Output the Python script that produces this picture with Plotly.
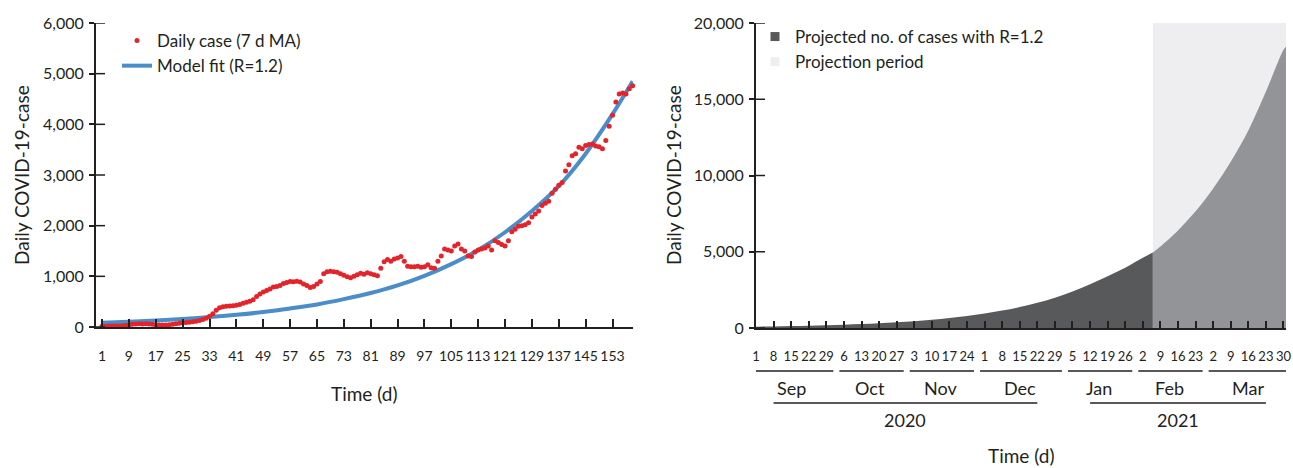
import plotly.graph_objects as go
import pandas as pd

W, H = 1293, 468

# ---- Left panel: observed daily cases (7-day moving average) and model fit ----
days = list(range(1, 160))
daily_ma = [
    15, 15, 18, 20, 20, 22, 25, 30,
    45, 55, 60, 65, 60, 65, 60, 55,
    45, 40, 38, 40, 45, 55, 65,
    75, 85, 90, 95, 105,
    115, 130, 150, 175, 210,
    260, 330, 380, 400, 410, 415, 420, 430, 445, 470,
    490, 510, 540, 600, 650, 690, 720, 750, 790, 800,
    820, 860, 880, 900, 895, 905, 890, 850, 820, 780,
    800, 850, 900,
    1050, 1090, 1100, 1090, 1080, 1050, 1020, 990, 970, 1000,
    1030, 1060, 1040, 1070, 1050, 1030, 1010,
    1160, 1290, 1330, 1300, 1340, 1360, 1390, 1300, 1200, 1190,
    1190, 1200, 1180, 1190, 1230, 1170, 1160,
    1300, 1400, 1540, 1520, 1500, 1600, 1640, 1540, 1500, 1400,
    1390, 1480, 1520, 1540, 1560, 1600, 1520,
    1700, 1670, 1630, 1600, 1700, 1880, 1930, 1990, 2000, 2020,
    2060, 2170, 2230, 2290, 2400, 2440, 2480,
    2640, 2720, 2800, 2850, 3080, 3200, 3380, 3420, 3550, 3520,
    3580, 3600, 3610, 3570, 3560, 3520,
    3680, 3960, 4180, 4440, 4600, 4620, 4600, 4700, 4760,
]

fit_days = [1, 9, 17, 25, 33, 41, 49, 57, 65, 73, 81, 89, 97, 105,
            113, 121, 129, 137, 145, 153, 159]
fit_cases = [85, 105, 130, 160, 195, 240, 295, 365, 445, 550, 670, 820,
             1010, 1240, 1520, 1870, 2290, 2780, 3420, 4200, 4850]

left_ticks = list(range(1, 154, 8))

# ---- Right panel: projected daily cases with R=1.2 ----
proj_dates = [
    "2020-09-01", "2020-09-08", "2020-09-15", "2020-09-22", "2020-09-29",
    "2020-10-06", "2020-10-13", "2020-10-20", "2020-10-27",
    "2020-11-03", "2020-11-10", "2020-11-17", "2020-11-24",
    "2020-12-01", "2020-12-08", "2020-12-15", "2020-12-22", "2020-12-29",
    "2021-01-05", "2021-01-12", "2021-01-19", "2021-01-26",
    "2021-02-02", "2021-02-06", "2021-02-09", "2021-02-16", "2021-02-23",
    "2021-03-02", "2021-03-09", "2021-03-16", "2021-03-23", "2021-03-30",
    "2021-03-31",
]
proj_cases = [
    90, 105, 125, 150, 180,
    215, 260, 310, 375,
    450, 540, 650, 790,
    950, 1140, 1370, 1650, 1990,
    2390, 2870, 3400, 3950,
    4600, 4950, 5350, 6400, 7650,
    9150, 10900, 12950, 15500, 18250,
    18450,
]
projection_start = "2021-02-06"
projection_end = "2021-03-31"
y2_max = 20000

week_ticks = pd.date_range("2020-09-01", "2021-03-30", freq="7D")

FONT = "Lato, 'Open Sans', sans-serif"
NARROW = "'Liberation Sans Narrow', 'Arial Narrow', Lato, sans-serif"
INK = "#231f20"
RED = "#e3242b"
BLUE = "#4a8dc9"
DARK = "#58595b"
MID = "#939497"
LIGHT = "#eeeef0"

def px_x(p):
    return p / W

def px_y(p):
    return 1 - p / H

fig = go.Figure()

# left panel traces
fig.add_trace(go.Scatter(
    x=fit_days, y=fit_cases, mode="lines", name="Model fit (R=1.2)",
    line=dict(color=BLUE, width=4, shape="spline"),
    xaxis="x", yaxis="y", legend="legend", legendrank=2, cliponaxis=False,
))
fig.add_trace(go.Scatter(
    x=days, y=daily_ma, mode="markers", name="Daily case (7 d MA)",
    marker=dict(color=RED, size=5), xaxis="x", yaxis="y",
    legend="legend", legendrank=1, cliponaxis=False,
))

# right panel traces
obs = [(d, v) for d, v in zip(proj_dates, proj_cases) if d <= projection_start]
fut = [(d, v) for d, v in zip(proj_dates, proj_cases) if d >= projection_start]

fig.add_trace(go.Scatter(
    x=[projection_start, projection_start, projection_end, projection_end],
    y=[0, y2_max, y2_max, 0], mode="none", fill="toself", fillcolor=LIGHT,
    hoverinfo="skip", showlegend=False, xaxis="x2", yaxis="y2",
))
fig.add_trace(go.Scatter(
    x=[d for d, _ in obs], y=[v for _, v in obs], mode="lines",
    line=dict(width=0, shape="spline"), fill="tozeroy", fillcolor=DARK,
    showlegend=False, xaxis="x2", yaxis="y2",
))
fig.add_trace(go.Scatter(
    x=[d for d, _ in fut], y=[v for _, v in fut], mode="lines",
    line=dict(width=0, shape="spline"), fill="tozeroy", fillcolor=MID,
    showlegend=False, xaxis="x2", yaxis="y2",
))
# legend swatches for the right panel
fig.add_trace(go.Scatter(
    x=[None], y=[None], mode="markers", name="Projected no. of cases with R=1.2",
    marker=dict(symbol="square", size=9, color=DARK),
    xaxis="x2", yaxis="y2", legend="legend2",
))
fig.add_trace(go.Scatter(
    x=[None], y=[None], mode="markers", name="Projection period",
    marker=dict(symbol="square", size=9, color=LIGHT),
    xaxis="x2", yaxis="y2", legend="legend2",
))

axis_common = dict(showgrid=False, zeroline=False, showline=True,
                   linecolor=INK, linewidth=2, tickcolor=INK, tickwidth=1.5,
                   automargin=False)

left_dom = [px_x(96), px_x(633)]
right_dom = [px_x(756), px_x(1286)]

fig.update_layout(
    width=W, height=H,
    margin=dict(l=0, r=0, t=0, b=0, autoexpand=False),
    paper_bgcolor="white", plot_bgcolor="white",
    font=dict(family=FONT, color=INK, size=16),
    xaxis=dict(
        **axis_common, domain=left_dom, anchor="y", range=[-0.8, 159.1],
        ticks="inside", ticklen=8, tickvals=left_ticks,
        ticktext=[str(t) for t in left_ticks], tickangle=0,
        tickfont=dict(family=NARROW, size=14), ticklabelstandoff=15,
    ),
    yaxis=dict(
        **axis_common, domain=[px_y(327), px_y(23)], anchor="x",
        range=[0, 6000], tickvals=list(range(0, 6001, 1000)),
        tickformat=",", ticks="outside", ticklen=5,
        tickfont=dict(size=16), ticklabelstandoff=2,
    ),
    xaxis2=dict(
        **axis_common, domain=right_dom, anchor="y2", type="date",
        range=["2020-09-01", "2021-03-31"],
        ticks="inside", ticklen=7, tickvals=list(week_ticks),
        ticktext=[str(d.day) for d in week_ticks], tickangle=0,
        tickfont=dict(family=NARROW, size=13), ticklabelstandoff=15,
    ),
    yaxis2=dict(
        **axis_common, domain=[px_y(328), px_y(23)], anchor="x2",
        range=[0, y2_max], tickvals=list(range(0, y2_max + 1, 5000)),
        tickformat=",", ticks="outside", ticklen=5,
        tickfont=dict(size=16), ticklabelstandoff=2,
    ),
    legend=dict(
        x=px_x(117), y=px_y(23), xanchor="left", yanchor="top",
        bgcolor="rgba(0,0,0,0)", font=dict(size=17), traceorder="normal",
        itemwidth=30,
    ),
    legend2=dict(
        x=px_x(755), y=px_y(19), xanchor="left", yanchor="top",
        bgcolor="rgba(0,0,0,0)", font=dict(size=17), itemwidth=30,
    ),
)

# inner halves of the crossing y ticks
for v in range(0, 6001, 1000):
    fig.add_shape(type="line", xref="x domain", yref="y", x0=0, x1=9 / 537,
                  y0=v, y1=v, line=dict(color=INK, width=1.5))
for v in range(0, y2_max + 1, 5000):
    fig.add_shape(type="line", xref="x2 domain", yref="y2", x0=0, x1=9 / 530,
                  y0=v, y1=v, line=dict(color=INK, width=1.5))

# axis titles
title_kw = dict(xref="paper", yref="paper", showarrow=False,
                xanchor="center", yanchor="middle", font=dict(size=19))
fig.add_annotation(text="Daily COVID-19-case", x=px_x(21), y=px_y(175),
                   textangle=-90, **title_kw)
fig.add_annotation(text="Time (d)", x=px_x(364), y=px_y(393), **title_kw)
fig.add_annotation(text="Daily COVID-19-case", x=px_x(673), y=px_y(175),
                   textangle=-90, **title_kw)
fig.add_annotation(text="Time (d)", x=px_x(1021), y=px_y(455), **title_kw)

# month and year groupings under the date axis
day = pd.Timedelta(days=1)
ticks = pd.Series(week_ticks)
group_kw = dict(xref="x2", yref="paper", showarrow=False,
                xanchor="center", yanchor="middle", font=dict(size=18))
for (yr, mo), grp in ticks.groupby([ticks.dt.year, ticks.dt.month]):
    first, last = grp.iloc[0], grp.iloc[-1]
    fig.add_shape(type="line", xref="x2", yref="paper",
                  x0=first - 1.8 * day, x1=last + 2.8 * day,
                  y0=px_y(371), y1=px_y(371), line=dict(color=INK, width=1.5))
    fig.add_annotation(text=first.strftime("%b"),
                       x=first + (last - first) / 2, y=px_y(388), **group_kw)
for yr, grp in ticks.groupby(ticks.dt.year):
    start, end = grp.iloc[1], grp.iloc[-2]
    fig.add_shape(type="line", xref="x2", yref="paper", x0=start, x1=end,
                  y0=px_y(403), y1=px_y(403), line=dict(color=INK, width=1.5))
    fig.add_annotation(text=str(yr), x=start + (end - start) / 2, y=px_y(420),
                       **group_kw)

fig.write_html("out.html")
